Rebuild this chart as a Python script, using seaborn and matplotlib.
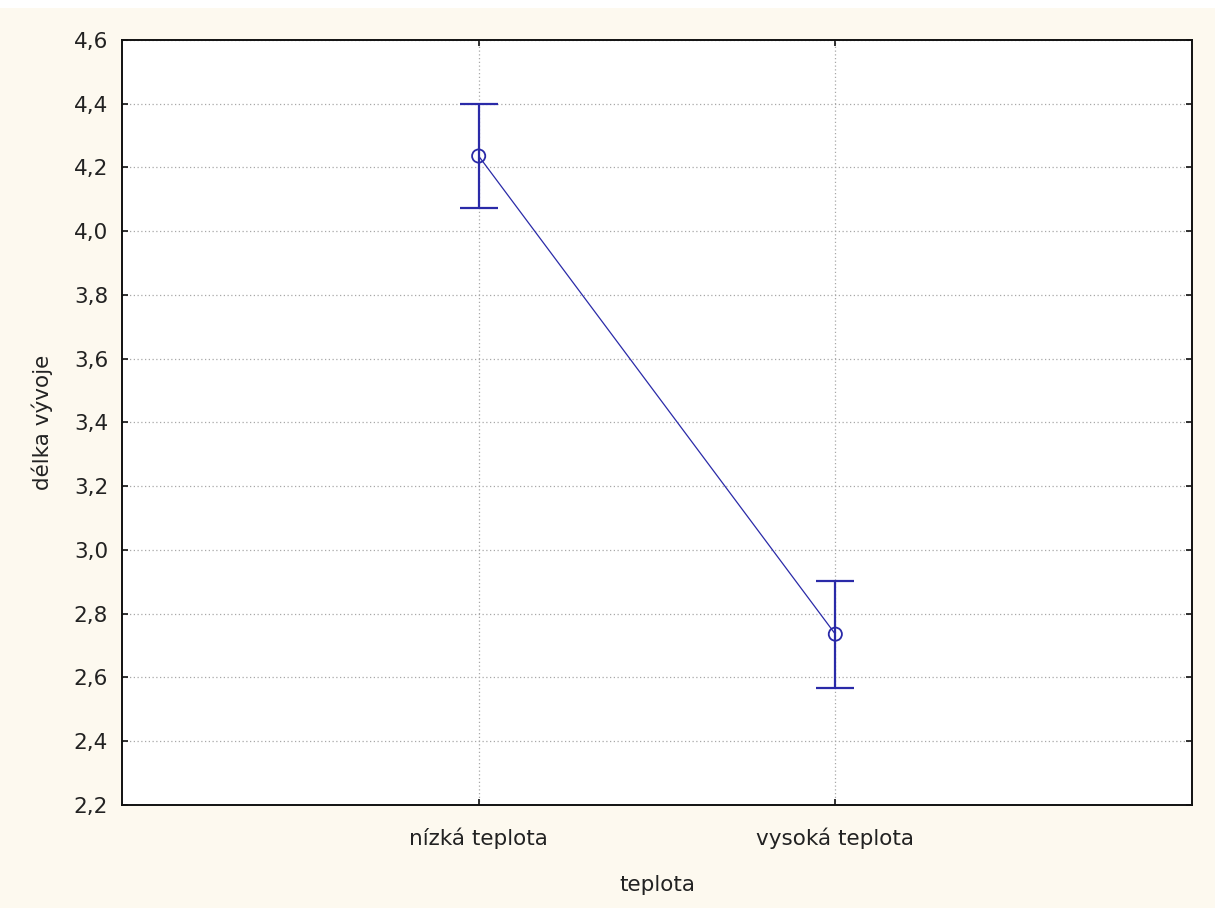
import matplotlib
matplotlib.use("Agg")
import matplotlib.pyplot as plt
import seaborn as sns
import pandas as pd
from matplotlib.ticker import FuncFormatter
from matplotlib.patches import Rectangle

# ---- data ----
categories = ["nízká teplota", "vysoká teplota"]
means = [4.236, 2.736]
ci_low = [4.073, 2.566]
ci_high = [4.399, 2.903]
y_ticks = [2.2, 2.4, 2.6, 2.8, 3.0, 3.2, 3.4, 3.6, 3.8, 4.0, 4.2, 4.4, 4.6]
x_label = "teplota"
y_label = "délka vývoje"

blue = "#2A2AA8"
bg = "#FDF9EF"
fs = 15.5

sns.set_style("white")
plt.rcParams['font.family'] = ['DejaVu Sans']

fig = plt.figure(figsize=(12.15, 9.08), dpi=100, facecolor=bg)
fig.patches.append(Rectangle((0, 1 - 8 / 908), 1, 8 / 908, transform=fig.transFigure,
                             facecolor="white", edgecolor="none", zorder=-1))
ax = fig.add_axes([122 / 1215, 1 - 805 / 908, 1070 / 1215, 765 / 908])
ax.set_facecolor("white")

df = pd.DataFrame({"pos": list(range(len(categories))), "mean": means,
                   "lo": ci_low, "hi": ci_high})

sns.lineplot(data=df, x="pos", y="mean", ax=ax, color=blue, lw=0.9, zorder=3)
ax.errorbar(df["pos"], df["mean"],
            yerr=[df["mean"] - df["lo"], df["hi"] - df["mean"]],
            fmt="none", ecolor=blue, elinewidth=1.6, capsize=14, capthick=1.6, zorder=4)
sns.scatterplot(data=df, x="pos", y="mean", ax=ax, s=90, facecolor="none",
                edgecolor=blue, linewidth=1.3, zorder=5)

ax.set_xlim(-1, 2)
ax.set_ylim(2.2, 4.6)
ax.set_yticks(y_ticks)
ax.yaxis.set_major_formatter(FuncFormatter(lambda v, p: f"{v:.1f}".replace(".", ",")))
ax.set_xticks(df["pos"])
ax.set_xticklabels(categories)

ax.grid(True, color="#A8A8A8", linestyle=(0, (1, 2)), linewidth=0.9)
ax.set_axisbelow(True)
for s in ax.spines.values():
    s.set_color("#111111")
    s.set_linewidth(1.4)

ax.tick_params(axis="both", direction="in", length=4, width=1.2, color="#111111",
               labelsize=fs, labelcolor="#222222", left=True, right=True,
               bottom=True, top=True)
ax.tick_params(axis="y", pad=10)
ax.tick_params(axis="x", pad=16)

ax.set_xlabel(x_label, fontsize=fs, color="#222222", labelpad=19)
ax.set_ylabel(y_label, fontsize=fs, color="#222222", labelpad=15)

fig.savefig("out.png", dpi=100, facecolor=bg)
